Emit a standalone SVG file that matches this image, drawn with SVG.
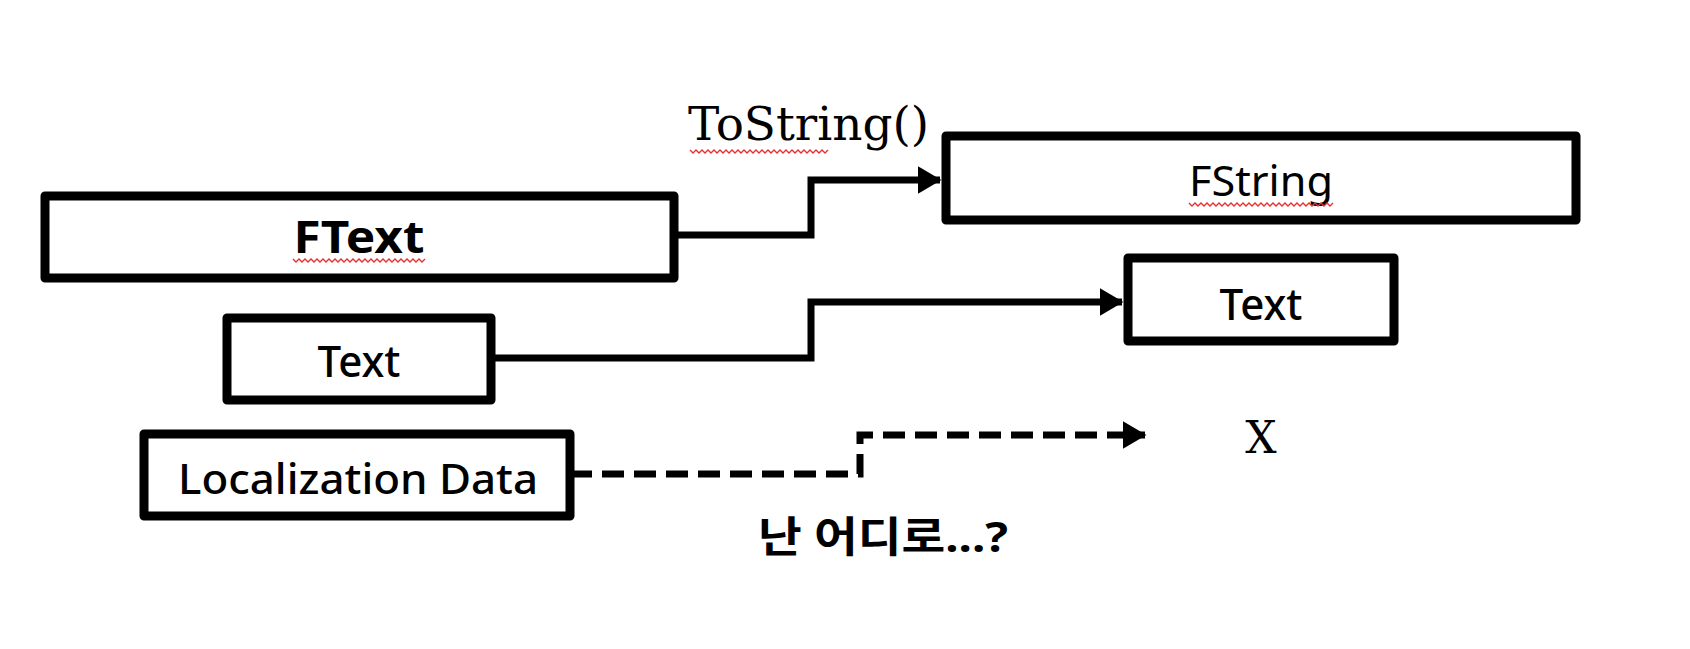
<svg xmlns="http://www.w3.org/2000/svg" width="1690" height="649" viewBox="0 0 1690 649">
<style>
.box{fill:#fff;stroke:#000;stroke-width:9;stroke-linejoin:round}
.lbl{font-family:"Noto Sans","Noto Sans CJK KR",sans-serif;fill:#000;text-anchor:middle;font-weight:500}
.lbl.b{font-weight:bold}
.lbl.r{font-weight:400}
.serif{font-family:"DejaVu Serif","Liberation Serif",serif;fill:#000}
.conn{fill:none;stroke:#000;stroke-width:7}
.dash{stroke-dasharray:22 10}
.squig{fill:none;stroke:#e83030;stroke-width:1.4}
</style>
<defs>
<marker id="arr" markerWidth="4" markerHeight="4" refX="3.2" refY="2" orient="auto" markerUnits="strokeWidth">
<path d="M0,0 L3.4,2 L0,4 Z" fill="#000"/>
</marker>
</defs>
<rect width="1690" height="649" fill="#fff"/>
<g id="connectors">
<path class="conn" d="M674,235 H811 V180 H940" marker-end="url(#arr)"/>
<path class="conn" d="M491,358 H811 V302 H1122" marker-end="url(#arr)"/>
<path class="conn dash" d="M570,474 H860 V435 H1145" marker-end="url(#arr)"/>
</g>
<g id="tostring">
<text class="serif" x="688" y="140" font-size="46" textLength="241" lengthAdjust="spacingAndGlyphs">ToString()</text>
<path class="squig" d="M690,150 l3,3 l3,-3 l3,3 l3,-3 l3,3 l3,-3 l3,3 l3,-3 l3,3 l3,-3 l3,3 l3,-3 l3,3 l3,-3 l3,3 l3,-3 l3,3 l3,-3 l3,3 l3,-3 l3,3 l3,-3 l3,3 l3,-3 l3,3 l3,-3 l3,3 l3,-3 l3,3 l3,-3 l3,3 l3,-3 l3,3 l3,-3 l3,3 l3,-3 l3,3 l3,-3 l3,3 l3,-3 l3,3 l3,-3 l3,3 l3,-3 l3,3 l3,-3"/>
</g>
<g id="fstring">
<rect class="box" x="946" y="136" width="630" height="84"/>
<text class="lbl r" x="1261" y="196" font-size="42" textLength="144" lengthAdjust="spacingAndGlyphs">FString</text>
<path class="squig" d="M1189,203 l3,3 l3,-3 l3,3 l3,-3 l3,3 l3,-3 l3,3 l3,-3 l3,3 l3,-3 l3,3 l3,-3 l3,3 l3,-3 l3,3 l3,-3 l3,3 l3,-3 l3,3 l3,-3 l3,3 l3,-3 l3,3 l3,-3 l3,3 l3,-3 l3,3 l3,-3 l3,3 l3,-3 l3,3 l3,-3 l3,3 l3,-3 l3,3 l3,-3 l3,3 l3,-3 l3,3 l3,-3 l3,3 l3,-3 l3,3 l3,-3 l3,3 l3,-3 l3,3 l3,-3"/>
</g>
<g id="ftext">
<rect class="box" x="45" y="196" width="629" height="82"/>
<text class="lbl b" x="359" y="253" font-size="44" textLength="131" lengthAdjust="spacingAndGlyphs">FText</text>
<path class="squig" d="M293,259 l3,3 l3,-3 l3,3 l3,-3 l3,3 l3,-3 l3,3 l3,-3 l3,3 l3,-3 l3,3 l3,-3 l3,3 l3,-3 l3,3 l3,-3 l3,3 l3,-3 l3,3 l3,-3 l3,3 l3,-3 l3,3 l3,-3 l3,3 l3,-3 l3,3 l3,-3 l3,3 l3,-3 l3,3 l3,-3 l3,3 l3,-3 l3,3 l3,-3 l3,3 l3,-3 l3,3 l3,-3 l3,3 l3,-3 l3,3 l3,-3"/>
</g>
<g id="text-left">
<rect class="box" x="227" y="318" width="264" height="82"/>
<text class="lbl" x="359" y="377" font-size="44" textLength="83" lengthAdjust="spacingAndGlyphs">Text</text>
</g>
<g id="text-right">
<rect class="box" x="1128" y="258" width="266" height="83"/>
<text class="lbl" x="1261" y="320" font-size="44" textLength="83" lengthAdjust="spacingAndGlyphs">Text</text>
</g>
<g id="localization">
<rect class="box" x="144" y="434" width="426" height="82"/>
<text class="lbl" x="358" y="494" font-size="42" textLength="360" lengthAdjust="spacingAndGlyphs">Localization Data</text>
</g>
<g id="x-mark">
<text class="serif" x="1261" y="453" font-size="44" text-anchor="middle">X</text>
</g>
<g id="question">
<text class="lbl b" x="883" y="552" font-size="42" textLength="250" lengthAdjust="spacingAndGlyphs">난 어디로...?</text>
</g>
</svg>
